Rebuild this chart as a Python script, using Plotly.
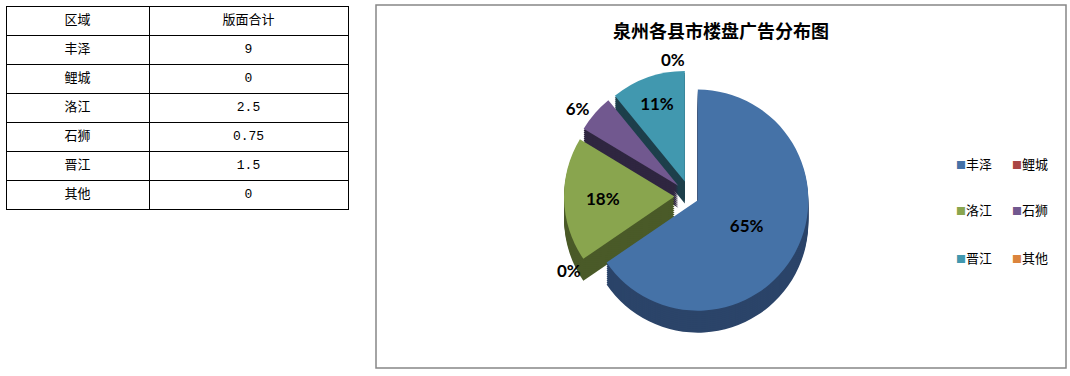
import plotly.graph_objects as go

# ---- data ----
regions = ["丰泽", "鲤城", "洛江", "石狮", "晋江", "其他"]
totals = [9, 0, 2.5, 0.75, 1.5, 0]
table_header = ["区域", "版面合计"]
chart_title = "泉州各县市楼盘广告分布图"

# ---- styling ----
face_colors = ["#4572A7", "#AA4643", "#89A54E", "#71588F", "#4198AF", "#DB843D"]
side_colors = ["#2B4469", "#5A2523", "#4A5A28", "#2F2640", "#1D3F4B", "#7A461E"]
label_positions = ["inside", "outside", "inside", "outside", "inside", "outside"]
slice_pull = [0.08, 0.14, 0.14, 0.14, 0.14, 0.14]

W, H = 1070, 376


def whole_percents(vals):
    """Whole-number percentages that add up to 100 (largest remainder)."""
    total = sum(vals)
    raw = [v / total * 100 for v in vals]
    floors = [int(r) for r in raw]
    short = 100 - sum(floors)
    order = sorted(range(len(raw)),
                   key=lambda i: (round(raw[i] - floors[i], 9), -raw[i]),
                   reverse=True)
    for i in order[:short]:
        floors[i] += 1
    return [f"{p}%" for p in floors]


pct_labels = whole_percents(totals)

# pie placement (pixel centre and square size of the domain)
cx, cy, side = 690, 196, 252
depth_steps, step = 11, 2


def pie_domain(dy):
    top = cy - side / 2 + dy
    bot = cy + side / 2 + dy
    return dict(x=[(cx - side / 2) / W, (cx + side / 2) / W],
                y=[1 - bot / H, 1 - top / H])


fig = go.Figure()

# data table
fig.add_trace(go.Table(
    domain=dict(x=[6 / W, 348 / W], y=[0.2, 1 - 6 / H]),
    columnwidth=[143, 199],
    header=dict(values=table_header, height=29, align="center",
                fill_color="white", line=dict(color="black", width=1),
                font=dict(family="Noto Sans CJK SC", size=13, color="black")),
    cells=dict(values=[regions, [f"{v:g}" for v in totals]], height=29,
               align="center", fill_color="white",
               line=dict(color="black", width=1),
               font=dict(family=["Noto Sans CJK SC", "Liberation Mono"],
                         size=13, color="black")),
))

# extruded sides of the pie: darker copies stacked downwards
for k in range(depth_steps, 0, -1):
    fig.add_trace(go.Pie(
        labels=regions, values=totals, sort=False, direction="clockwise",
        rotation=0, pull=slice_pull,
        marker=dict(colors=side_colors, line=dict(width=0)),
        textinfo="none", hoverinfo="skip", showlegend=False,
        domain=pie_domain(k * step),
    ))

# top face with percentage labels
fig.add_trace(go.Pie(
    labels=regions, values=totals, sort=False, direction="clockwise",
    rotation=0, pull=slice_pull,
    marker=dict(colors=face_colors, line=dict(width=0)),
    text=pct_labels, textinfo="text", textposition=label_positions,
    insidetextorientation="horizontal",
    textfont=dict(family="Lato", size=17, color="black", weight="bold"),
    showlegend=False, domain=pie_domain(0),
))

# chart frame
fig.add_shape(type="rect", xref="paper", yref="paper",
              x0=376 / W, x1=1066 / W, y0=1 - 368 / H, y1=1 - 5 / H,
              line=dict(color="#878787", width=1.5), fillcolor="rgba(0,0,0,0)")

# title
fig.add_annotation(x=721 / W, y=1 - 30 / H, xref="paper", yref="paper",
                   xanchor="center", yanchor="middle",
                   text=f"<b>{chart_title}</b>", showarrow=False,
                   font=dict(family="Noto Sans CJK SC", size=18, color="black"))

# legend: two columns, three rows
for i, (name, col) in enumerate(zip(regions, face_colors)):
    row, colm = divmod(i, 2)
    fig.add_annotation(
        x=(954 + colm * 56) / W, y=1 - (163 + row * 47) / H,
        xref="paper", yref="paper", xanchor="left", yanchor="middle",
        showarrow=False,
        text=f'<span style="color:{col};font-size:10px">■</span>{name}',
        font=dict(family="Noto Sans CJK SC", size=13, color="black"))

fig.update_layout(width=W, height=H, margin=dict(l=0, r=0, t=0, b=0),
                  paper_bgcolor="white", plot_bgcolor="white")

fig.write_html("out.html")
